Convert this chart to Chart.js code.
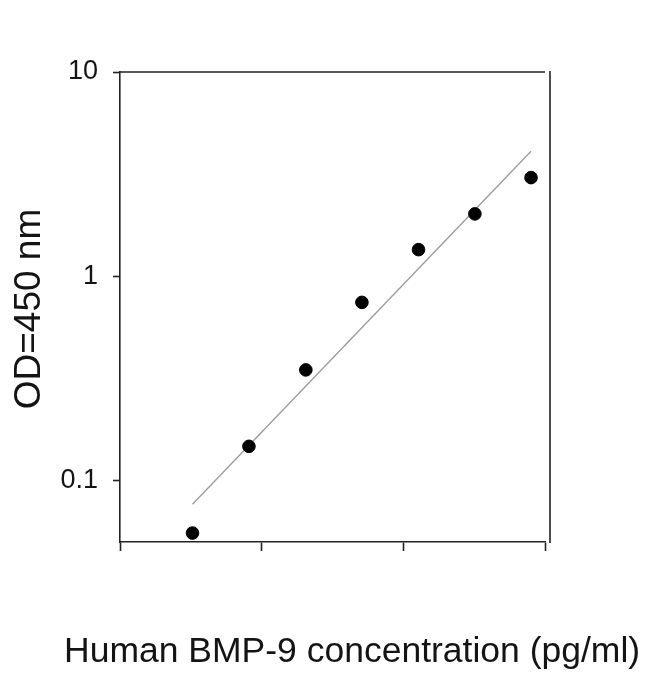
<!DOCTYPE html>
<html>
<head>
<meta charset="utf-8">
<script src="https://cdn.jsdelivr.net/npm/chart.js@4.4.1/dist/chart.umd.min.js"></script>
<style>
html,body{margin:0;padding:0;background:#fff;}
#wrap{width:650px;height:674px;}
</style>
</head>
<body>
<div id="wrap"><canvas id="c" width="650" height="674"></canvas></div>
<script>
// Data
const concentrations = [3.25, 8.13, 20.5, 51, 128, 320, 797];   // pg/ml (log x axis)
const odValues = [0.0553, 0.147, 0.348, 0.745, 1.35, 2.02, 3.04];
const fitX = [3.25, 797];
const fitY = [0.0765, 4.09];
const yTickValues = [0.1, 1, 10];
const xTickValues = [1, 10, 100, 1000];
const xTitle = 'Human BMP-9 concentration (pg/ml)';
const yTitle = 'OD=450 nm';

const FONT = '"Liberation Sans", Arial, sans-serif';
const TXT = '#141414';

const framePlugin = {
  id: 'frame',
  afterDraw(chart) {
    const {ctx, chartArea: a} = chart;
    ctx.save();
    ctx.strokeStyle = '#222';
    ctx.lineWidth = 1.6;
    ctx.beginPath();
    ctx.moveTo(a.left, a.top);
    ctx.lineTo(a.right, a.top);
    ctx.moveTo(a.right + 5, a.top - 1);
    ctx.lineTo(a.right + 5, a.bottom + 1);
    ctx.stroke();
    // titles
    ctx.fillStyle = TXT;
    ctx.font = '35.5px ' + FONT;
    ctx.textAlign = 'left';
    ctx.textBaseline = 'alphabetic';
    ctx.fillText(xTitle, 64, 662);
    ctx.save();
    ctx.translate(40, (a.top + a.bottom) / 2 + 2);
    ctx.rotate(-Math.PI / 2);
    ctx.textAlign = 'center';
    ctx.font = '37px ' + FONT;
    ctx.fillText(yTitle, 0, 0);
    ctx.restore();
    ctx.restore();
  }
};

new Chart(document.getElementById('c'), {
  type: 'scatter',
  data: {
    datasets: [
      {
        type: 'line',
        data: fitX.map((x, i) => ({x, y: fitY[i]})),
        borderColor: '#9a9a9a',
        borderWidth: 1.3,
        pointRadius: 0,
        fill: false,
        order: 2
      },
      {
        data: concentrations.map((x, i) => ({x, y: odValues[i]})),
        backgroundColor: '#000',
        borderColor: '#000',
        pointRadius: 6.3,
        pointHoverRadius: 6.3,
        order: 1
      }
    ]
  },
  plugins: [framePlugin],
  options: {
    responsive: false,
    animation: false,
    devicePixelRatio: 1,
    layout: {padding: {left: 0, right: 105, top: 72, bottom: 0}},
    plugins: {legend: {display: false}, tooltip: {enabled: false}, title: {display: false}},
    scales: {
      x: {
        type: 'logarithmic',
        min: 1,
        max: 1000,
        afterBuildTicks(s) { s.ticks = xTickValues.map(v => ({value: v})); },
        afterFit(s) { s.height = 132; },
        ticks: {display: false},
        grid: {drawOnChartArea: false, drawTicks: true, tickLength: 9, tickColor: '#222', tickWidth: 1.6},
        border: {display: true, color: '#222', width: 1.6},
        title: {display: false}
      },
      y: {
        type: 'logarithmic',
        min: 0.05,
        max: 10,
        afterBuildTicks(s) { s.ticks = yTickValues.map(v => ({value: v})); },
        afterFit(s) { s.width = 120; },
        ticks: {
          color: TXT,
          font: {family: FONT, size: 27},
          padding: 15,
          callback: v => String(v)
        },
        grid: {drawOnChartArea: false, drawTicks: true, tickLength: 7, tickColor: '#222', tickWidth: 1.6},
        border: {display: true, color: '#222', width: 1.6},
        title: {display: false}
      }
    }
  }
});
</script>
</body>
</html>
